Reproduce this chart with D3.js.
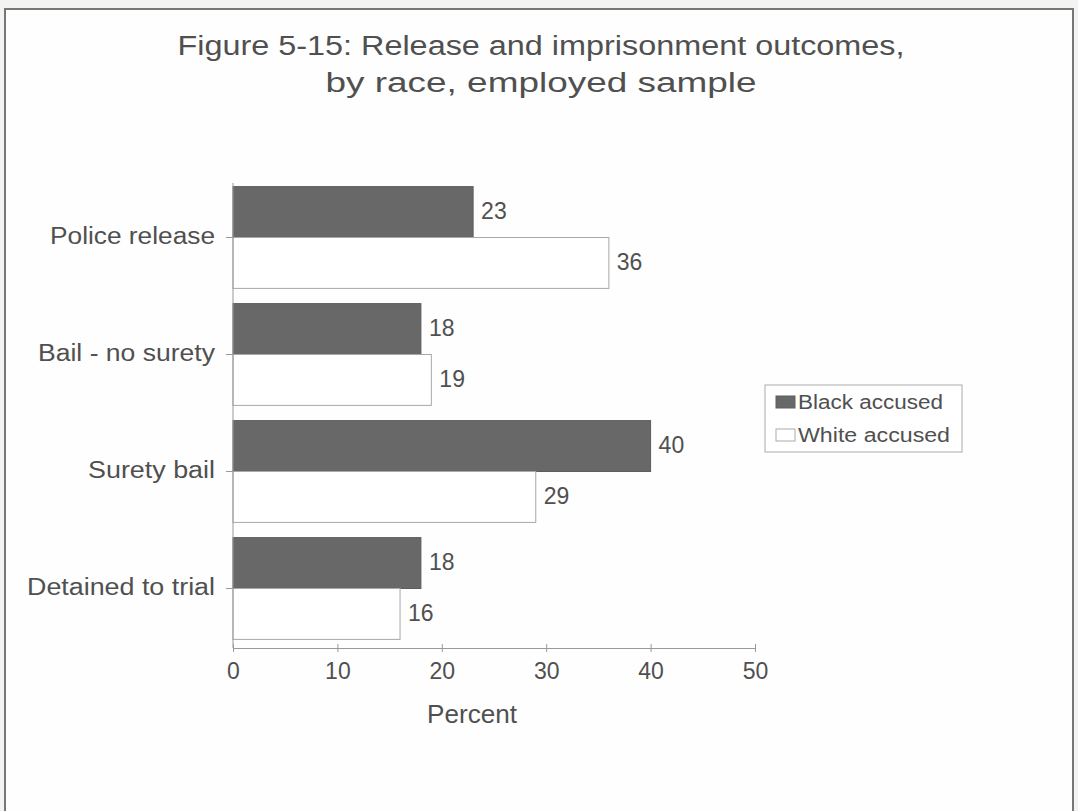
<!DOCTYPE html>
<html><head><meta charset="utf-8">
<script src="https://cdn.jsdelivr.net/npm/d3@7"></script>
<style>body{margin:0;background:#f3f3f1;}svg{display:block;}</style>
</head><body>
<script>
const categories = ["Police release", "Bail - no surety", "Surety bail", "Detained to trial"];
const seriesNames = ["Black accused", "White accused"];
const blackValues = [23, 18, 40, 18];
const whiteValues = [36, 19, 29, 16];
const xTicks = [0, 10, 20, 30, 40, 50];
const titleLines = ["Figure 5-15: Release and imprisonment outcomes,", "by race, employed sample"];
const xTitle = "Percent";

const W = 1078, H = 811;
const svg = d3.select("body").append("svg").attr("width", W).attr("height", H);
const font = "'Liberation Sans', Arial, sans-serif";
const textCol = "#505050";

// page frame
svg.append("rect").attr("x", 0).attr("y", 0).attr("width", W).attr("height", H).attr("fill", "#f3f3f1");
svg.append("rect").attr("x", 5).attr("y", 9).attr("width", 1068).attr("height", 810)
  .attr("fill", "#fefefe").attr("stroke", "#777").attr("stroke-width", 2);

// title
svg.append("g").selectAll("text").data(titleLines).join("text")
  .attr("x", 541).attr("y", (d, i) => 55 + i * 37)
  .attr("text-anchor", "middle").attr("font-family", font).attr("font-size", 27)
  .attr("fill", textCol).attr("textLength", (d, i) => i === 0 ? 727 : 431).attr("lengthAdjust", "spacingAndGlyphs")
  .text(d => d);

const x = d3.scaleLinear().domain([0, 50]).range([233, 755]);
const y = d3.scaleBand().domain(categories).range([179, 647]).paddingInner(0.13).paddingOuter(0.065);
const sub = d3.scaleBand().domain(seriesNames).range([0, y.bandwidth()]);
const fills = {"Black accused": "#686868", "White accused": "#ffffff"};

const data = categories.map((c, i) => ({cat: c, vals: [
  {s: "Black accused", v: blackValues[i]}, {s: "White accused", v: whiteValues[i]}]}));

const groups = svg.append("g").selectAll("g").data(data).join("g")
  .attr("transform", d => `translate(0,${y(d.cat)})`);
groups.selectAll("rect").data(d => d.vals).join("rect")
  .attr("x", x(0)).attr("y", d => sub(d.s))
  .attr("width", d => x(d.v) - x(0)).attr("height", sub.bandwidth())
  .attr("fill", d => fills[d.s]).attr("stroke", d => d.s === "White accused" ? "#a8a8a8" : "#5e5e5e").attr("stroke-width", 1);
groups.selectAll("text").data(d => d.vals).join("text")
  .attr("x", d => x(d.v) + 8).attr("y", d => sub(d.s) + sub.bandwidth() / 2 + 7)
  .attr("font-family", font).attr("font-size", 23)
  .attr("fill", textCol).text(d => d.v);

// x axis
const xAxis = svg.append("g").attr("transform", "translate(0,648)")
  .call(d3.axisBottom(x).tickValues(xTicks).tickSize(4).tickSizeOuter(0).tickPadding(10));
xAxis.select(".domain").attr("stroke", "#999");
xAxis.selectAll(".tick line").attr("stroke", "#999").attr("y1", -4).attr("y2", 4);
xAxis.selectAll(".tick text").attr("font-family", font).attr("font-size", 23).attr("fill", textCol)
  .attr("y", 31).attr("dy", null);

// y axis
const labelWidths = {"Police release": 165, "Bail - no surety": 177, "Surety bail": 127, "Detained to trial": 188};
const yAxis = svg.append("g").attr("transform", `translate(${x(0)},0)`)
  .call(d3.axisLeft(y).tickSize(7).tickSizeOuter(0).tickPadding(8));
yAxis.select(".domain").attr("stroke", "#999").attr("d", "M0,183V648");
yAxis.selectAll(".tick line").attr("stroke", "#999");
yAxis.selectAll(".tick text").attr("font-family", font).attr("font-size", 23.5).attr("fill", textCol)
  .attr("x", -18).attr("y", 6).attr("dy", null)
  .attr("textLength", d => labelWidths[d]).attr("lengthAdjust", "spacingAndGlyphs");

svg.append("text").attr("x", 472).attr("y", 723).attr("text-anchor", "middle")
  .attr("font-family", font).attr("font-size", 25).attr("fill", textCol)
  .attr("textLength", 90).attr("lengthAdjust", "spacingAndGlyphs").text(xTitle);

// legend
const lg = svg.append("g");
lg.append("rect").attr("x", 765).attr("y", 385).attr("width", 197).attr("height", 67)
  .attr("fill", "#fff").attr("stroke", "#aaa");
const li = lg.selectAll("g").data(seriesNames).join("g")
  .attr("transform", (d, i) => `translate(776,${402 + i * 33})`);
li.append("rect").attr("x", 0).attr("y", -6).attr("width", 19).attr("height", 12)
  .attr("fill", d => fills[d]).attr("stroke", d => d === "White accused" ? "#aaa" : "#5e5e5e");
li.append("text").attr("x", 22).attr("y", 7)
  .attr("font-family", font).attr("font-size", 20).attr("fill", textCol)
  .attr("textLength", d => d === "Black accused" ? 145 : 152).attr("lengthAdjust", "spacingAndGlyphs").text(d => d);
</script>
</body></html>
